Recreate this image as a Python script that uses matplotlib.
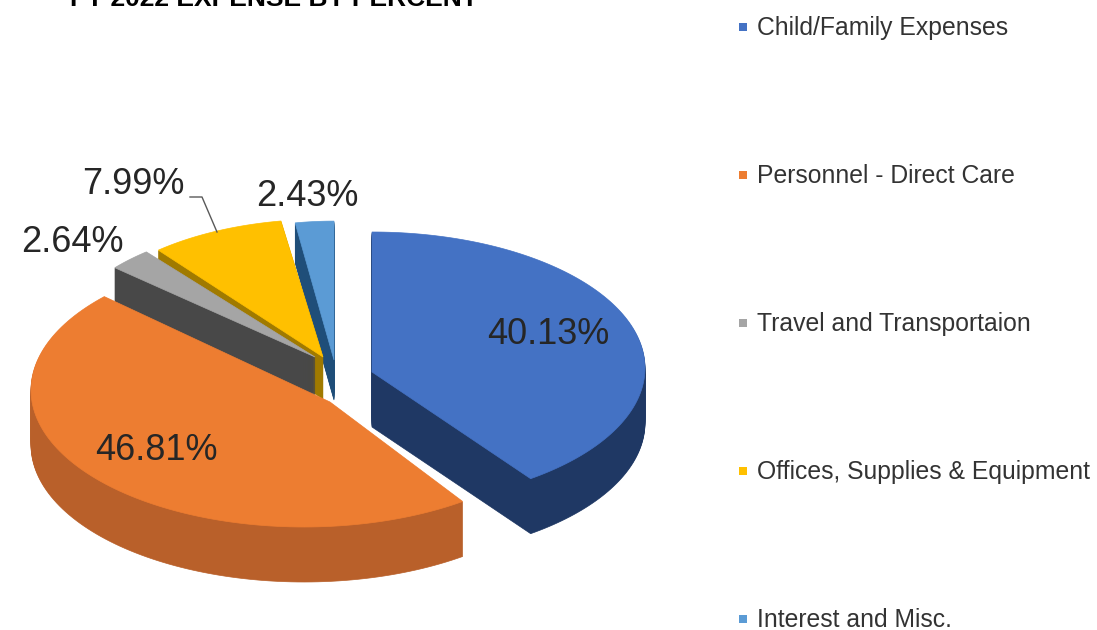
import numpy as np
from matplotlib import pyplot as plt
from matplotlib.patches import Polygon

plt.rcParams['font.family'] = ['Liberation Sans', 'DejaVu Sans']

# data
categories = ['Child/Family Expenses', 'Personnel - Direct Care', 'Travel and Transportaion',
              'Offices, Supplies & Equipment', 'Interest and Misc.']
percents = [40.13, 46.81, 2.64, 7.99, 2.43]
percent_labels = ['40.13%', '46.81%', '2.64%', '7.99%', '2.43%']
title = 'FY 2022 EXPENSE BY PERCENT'

# look of each slice (pixel units, y going down)
top_colors = ['#4472C4', '#ED7D31', '#A5A5A5', '#FFC000', '#5B9BD5']
side_colors = ['#1F3864', '#B9602A', '#484848', '#A07A00', '#1F4E79']
apex_x = [372, 330, 315, 323, 334]
apex_y = [372, 402, 357, 357, 360]
shift_x = [0, -26, 0, 0, 0]
shift_y = [-4, -12, 0, 0, 0]
radius_x = [273, 273, 255, 249, 230]
radius_y = [136, 137, 122, 124, 125]
tilt = [0, 0, 0.1, 0.1, 0.1]
depth = [55, 55, 40, 42, 40]
label_x = [548, 156, 72, 133, 307]
label_y = [334, 450, 243, 185, 196]
draw_order = [4, 3, 2, 1, 0]


def slice_outline(i, start, end):
    # arc on a tilted circle, clockwise from 12 o'clock
    t = np.radians(np.linspace(start, end, 120))
    x, y = np.sin(t), np.cos(t)
    w = 1 - tilt[i] * y
    px = apex_x[i] + shift_x[i] + radius_x[i] * x / w
    py = apex_y[i] + shift_y[i] - radius_y[i] * y / w
    return np.column_stack([np.r_[apex_x[i], px], np.r_[apex_y[i], py]])


fig = plt.figure(figsize=(10.97, 6.3), dpi=100)
ax = fig.add_axes([0, 0, 1, 1])
ax.set_xlim(0, 1097)
ax.set_ylim(630, 0)
ax.axis('off')

# slice angles come from the percents
edges = np.cumsum([0] + percents) / sum(percents) * 360
for i in draw_order:
    outline = slice_outline(i, edges[i], edges[i + 1])
    # side wall: same shape stacked downwards
    for dy in range(1, depth[i] + 1):
        ax.add_patch(Polygon(outline + [0, dy], closed=True, fc=side_colors[i], ec=side_colors[i], lw=0.5))
    ax.add_patch(Polygon(outline, closed=True, fc=top_colors[i], ec=top_colors[i], lw=0.5))

for i, text in enumerate(percent_labels):
    ax.text(label_x[i], label_y[i], text, fontsize=26, color='#262626', ha='center', va='center')

# leader line of the 7.99% label
ax.plot([190, 202, 217], [197, 197, 232], color='#595959', lw=1)

# legend
legend_y = [27, 175, 323, 471, 619]
for i, name in enumerate(categories):
    ax.scatter(743, legend_y[i], marker='s', s=40, color=top_colors[i], linewidths=0)
    ax.text(757, legend_y[i] + 1, name, fontsize=17.8, color='#333333', ha='left', va='center')

ax.text(70, 6, title, fontsize=19, fontweight='bold', color='black', ha='left', va='baseline', clip_on=False)

plt.savefig('out.png', dpi=100)
